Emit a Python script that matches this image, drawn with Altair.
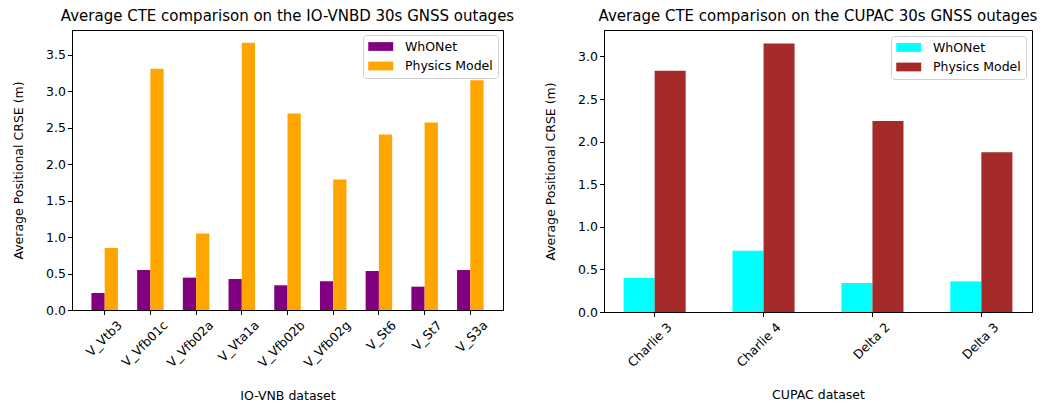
import altair as alt
import pandas as pd

# IO-VNB dataset
iovnb_cats = ["V_Vtb3", "V_Vfb01c", "V_Vfb02a", "V_Vta1a", "V_Vfb02b", "V_Vfb02g", "V_St6", "V_St7", "V_S3a"]
iovnb_whonet = [0.233, 0.549, 0.444, 0.425, 0.339, 0.393, 0.535, 0.320, 0.549]
iovnb_physics = [0.851, 3.307, 1.048, 3.664, 2.694, 1.789, 2.406, 2.571, 3.152]

# CUPAC dataset
cupac_cats = ["Charlie 3", "Charlie 4", "Delta 2", "Delta 3"]
cupac_whonet = [0.398, 0.719, 0.340, 0.359]
cupac_physics = [2.832, 3.152, 2.242, 1.875]

series = ["WhONet", "Physics Model"]

def long_df(cats, a, b):
    rows = []
    for c, va, vb in zip(cats, a, b):
        rows.append({"cat": c, "series": series[0], "val": va})
        rows.append({"cat": c, "series": series[1], "val": vb})
    return pd.DataFrame(rows)

FONT = "DejaVu Sans"
# wide flat rectangle (matplotlib-style legend patch); nominal symbol box is 12.5px
rect_path = "M-1,-0.7L3,-0.7L3,0.7L-1,0.7Z"

def panel(df, cats, colors, title, xtitle, ymax, w, h, pin, pout, loff):
    legend = alt.Legend(
        title=None, orient="top-right", offset=loff,
        symbolType=rect_path, symbolSize=156, symbolStrokeWidth=0,
        labelFontSize=12.5, labelFont=FONT, labelColor="black",
        labelOffset=24, rowPadding=6.5, padding=5,
        strokeColor="#d0d0d0", fillColor="white", cornerRadius=3,
    )
    return alt.Chart(df).mark_bar().encode(
        x=alt.X("cat:N", sort=cats, title=xtitle,
                scale=alt.Scale(paddingInner=pin, paddingOuter=pout),
                axis=alt.Axis(labelAngle=315, labelAlign="right", labelBaseline="top",
                              labelOffset=11, labelPadding=4, titlePadding=20)),
        xOffset=alt.XOffset("series:N", sort=series),
        y=alt.Y("val:Q", title="Average Positional CRSE (m)",
                scale=alt.Scale(domain=[0, ymax], nice=False, zero=True),
                axis=alt.Axis(values=[x * 0.5 for x in range(0, 8) if x * 0.5 <= ymax],
                              format=".1f", titlePadding=20)),
        color=alt.Color("series:N", sort=series,
                        scale=alt.Scale(domain=series, range=colors), legend=legend),
    ).properties(
        width=w, height=h,
        title=alt.TitleParams(title, fontSize=15, font=FONT, fontWeight="normal",
                              color="black", offset=6, anchor="middle"),
    )

left = panel(long_df(iovnb_cats, iovnb_whonet, iovnb_physics), iovnb_cats,
             ["#800080", "#FFA500"],
             "Average CTE comparison on the IO-VNBD 30s GNSS outages",
             "IO-VNB dataset", 3.84, 431, 280, 0.42, 0.425, 5)
right = panel(long_df(cupac_cats, cupac_whonet, cupac_physics), cupac_cats,
              ["#00FFFF", "#A52A2A"],
              "Average CTE comparison on the CUPAC 30s GNSS outages",
              "CUPAC dataset", 3.31, 428, 282, 0.43, 0.18, 6)

chart = alt.hconcat(left, right, spacing=29).resolve_scale(
    color="independent", x="independent", y="independent", xOffset="independent"
).configure_axis(
    labelFont=FONT, titleFont=FONT, labelFontSize=12.5, titleFontSize=12.5,
    titleFontWeight="normal", labelColor="black", titleColor="black",
    domainColor="black", tickColor="black", tickSize=4.5, grid=False,
    domainWidth=1, tickWidth=1,
).configure_view(
    stroke="black", strokeWidth=1
).properties(
    padding={"left": 4, "top": 0, "right": 5, "bottom": 5}
)

chart.save("out.html", embed_options={"renderer": "svg", "actions": False})
